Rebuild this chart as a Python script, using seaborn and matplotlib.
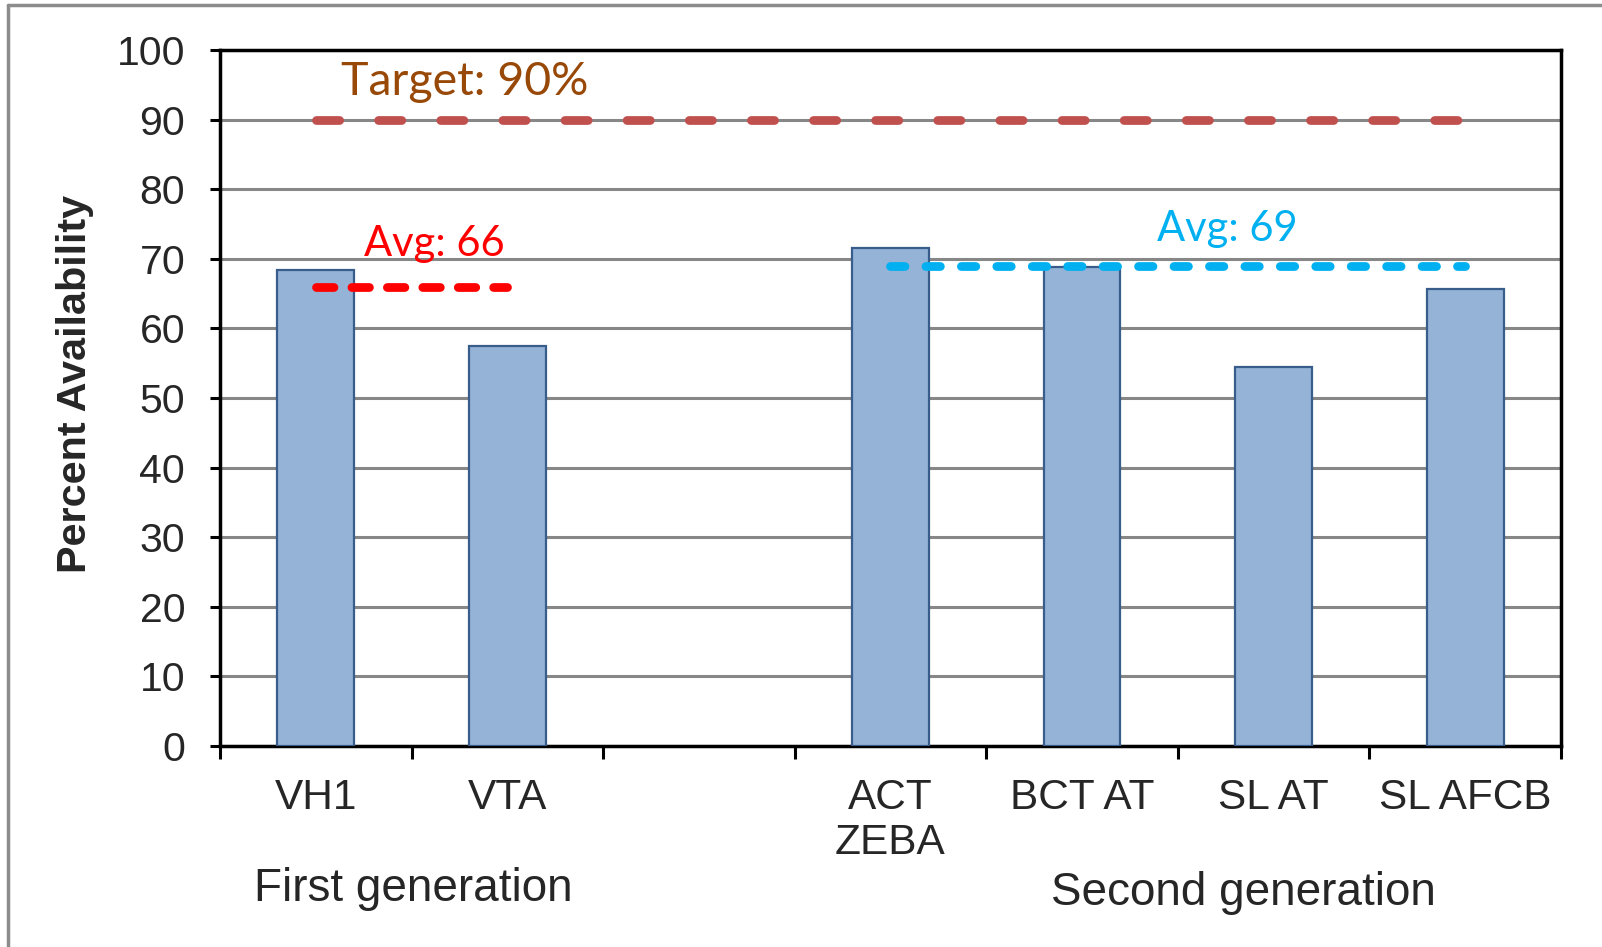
import numpy as np
import pandas as pd
import matplotlib
matplotlib.use("Agg")
import matplotlib.pyplot as plt
import seaborn as sns

# chart data
categories = ["VH1", "VTA", " ", "ACT\nZEBA", "BCT AT", "SL AT", "SL AFCB"]
availability = [68.4, 57.5, np.nan, 71.6, 68.8, 54.5, 65.7]
target = 90
first_gen_avg = 66
second_gen_avg = 69
groups = ["First generation", "Second generation"]

df = pd.DataFrame({"Category": categories, "Availability": availability})

sns.set_theme(style="white")
plt.rcParams["font.family"] = ["Liberation Sans", "DejaVu Sans"]

fig = plt.figure(figsize=(16.02, 9.47), dpi=100)
ax = fig.add_axes([0.1373, 0.2122, 0.8371, 0.735])

sns.barplot(data=df, x="Category", y="Availability", order=categories,
            color="#95B3D7", saturation=1, width=0.4,
            edgecolor="#385D8A", linewidth=1.6, ax=ax, zorder=3)

# reference lines
ax.plot([0, 6], [target, target], color="#C0504D", lw=6.3,
        dashes=(2.65, 4.45), dash_capstyle="round", zorder=4)
ax.plot([0, 1], [first_gen_avg, first_gen_avg], color="#FF0000", lw=6.3,
        dashes=(2.0, 2.05), dash_capstyle="round", zorder=4)
ax.plot([3, 6], [second_gen_avg, second_gen_avg], color="#00B0F0", lw=6.3,
        dashes=(1.65, 2.4), dash_capstyle="round", zorder=4)

calibri_like = ["Lato", "DejaVu Sans"]
ax.text(0.78, 95.4, f"Target: {target}%", color="#984807", fontsize=33.5,
        ha="center", va="center", family=calibri_like)
ax.text(0.62, 72.2, f"Avg: {first_gen_avg}", color="#FF0000", fontsize=30,
        ha="center", va="center", family=calibri_like)
ax.text(4.76, 74.3, f"Avg: {second_gen_avg}", color="#00B0F0", fontsize=30,
        ha="center", va="center", family=calibri_like)

# axes styling
ax.set_xlim(-0.5, 6.5)
ax.set_ylim(0, 100)
ax.set_yticks(range(0, 101, 10))
ax.yaxis.grid(True, color="#878787", lw=2.2)
ax.set_axisbelow(True)
for s in ax.spines.values():
    s.set_color("black")
    s.set_linewidth(2.5)

ax.set_xticks(np.arange(-0.5, 7, 1))
ax.set_xticklabels([])
ax.set_xticks(range(len(categories)), categories, minor=True)
ax.tick_params(axis="x", which="major", direction="out", length=9, width=2.2,
               color="black", bottom=True)
ax.tick_params(axis="x", which="minor", length=0, pad=23, labelsize=30.5)
ax.tick_params(axis="y", direction="out", length=7, width=2.2, color="black",
               left=True, labelsize=29.5, pad=18)
for lab in ax.get_xticklabels(minor=True):
    lab.set_linespacing(1.15)

ax.set_xlabel("")
ax.set_ylabel("Percent Availability", fontsize=29.8, fontweight="bold")
ax.yaxis.set_label_coords(-0.094, 0.52)

ax.text(0.51, -20.6, groups[0], fontsize=33, ha="center", va="center", clip_on=False)
ax.text(4.84, -21.1, groups[1], fontsize=33, ha="center", va="center", clip_on=False)

# outer chart frame (top and left edges visible)
fig.add_artist(plt.Line2D([8 / 1602, 1], [1 - 5 / 947, 1 - 5 / 947],
                          color="#8C8C8C", lw=2.5, transform=fig.transFigure))
fig.add_artist(plt.Line2D([8 / 1602, 8 / 1602], [0, 1 - 5 / 947],
                          color="#8C8C8C", lw=2.5, transform=fig.transFigure))

fig.savefig("out.png", dpi=100, facecolor="white")
